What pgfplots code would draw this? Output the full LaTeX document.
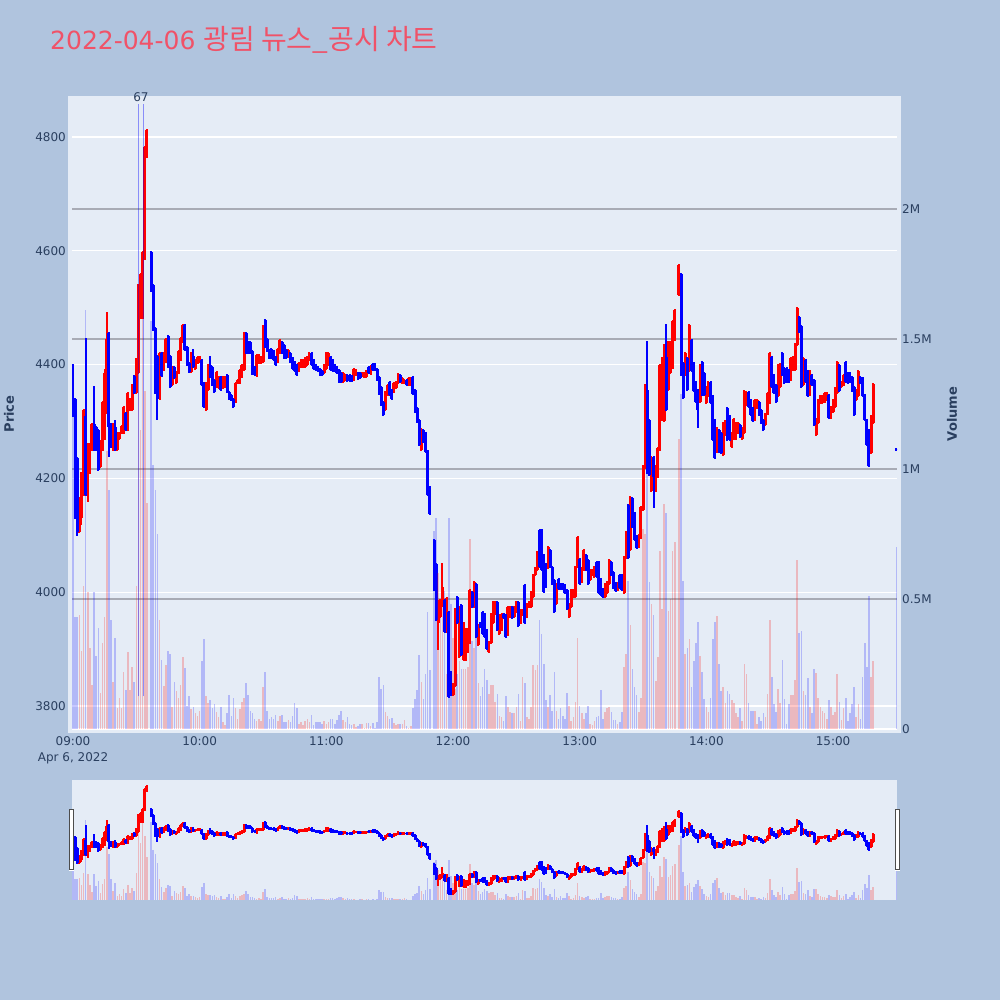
\documentclass[border=0pt]{standalone}
\usepackage{fontspec}
\setmainfont{DejaVu Sans}
\newfontfamily\kr{Noto Sans CJK KR}
\usepackage{pgfplots}
\usepackage{pgfplotstable}
\pgfplotsset{compat=1.18}

\definecolor{paper}{RGB}{176,196,222}
\definecolor{plotbg}{RGB}{229,236,246}
\definecolor{txt}{RGB}{42,63,95}
\definecolor{titlec}{RGB}{240,82,104}
\definecolor{gridgray}{RGB}{168,171,181}

% minute after 09:00, open high low close, volume in millions
\pgfplotstableread{
t o h l c v
0 4400 4400 4310 4310 1.30
1 4340 4340 4130 4130 0.43
2 4235 4235 4100 4105 0.43
3 4105 4165 4105 4165 0.44
4 4130 4210 4120 4210 0.30
5 4200 4320 4170 4320 0.55
6 4310 4445 4170 4170 1.61
7 4170 4260 4160 4260 0.525
8 4235 4260 4210 4260 0.31
9 4250 4295 4250 4295 0.17
10 4295 4360 4250 4250 0.525
11 4290 4290 4250 4250 0.28
12 4285 4285 4215 4215 0.39
13 4220 4265 4220 4265 0.14
14 4250 4335 4250 4335 0.33
15 4270 4390 4270 4385 0.43
16 4315 4490 4315 4445 1.07
17 4455 4455 4240 4290 0.92
18 4295 4295 4255 4255 0.42
19 4250 4295 4250 4295 0.18
20 4290 4300 4250 4250 0.35
21 4250 4280 4250 4280 0.08
22 4270 4280 4270 4280 0.12
23 4280 4292 4280 4292 0.08
24 4280 4325 4280 4325 0.22
25 4315 4315 4285 4285 0.15
26 4285 4350 4285 4350 0.295
27 4320 4340 4320 4340 0.15
28 4320 4365 4320 4365 0.24
29 4380 4380 4350 4350 0.18
30 4350 4410 4350 4410 0.55
31 4385 4540 4385 4540 1.70
32 4481 4560 4481 4560 1.15
33 4481 4598 4481 4598 1.81
34 4585 4783 4585 4783 1.30
35 4765 4812 4765 4812 0.87
37 4598 4598 4530 4530 1.57
38 4540 4540 4460 4460 1.015
39 4465 4465 4350 4350 0.92
40 4415 4415 4305 4340 0.75
41 4340 4420 4340 4420 0.42
42 4420 4420 4380 4380 0.265
43 4390 4420 4390 4420 0.165
44 4405 4445 4405 4445 0.245
45 4450 4450 4395 4395 0.30
46 4415 4415 4360 4360 0.29
47 4365 4395 4365 4395 0.085
48 4396 4396 4376 4376 0.18
49 4367 4387 4367 4387 0.145
50 4385 4423 4385 4423 0.12
51 4408 4446 4408 4446 0.17
52 4440 4469 4440 4469 0.275
53 4469 4469 4425 4425 0.235
54 4431 4431 4399 4399 0.09
55 4402 4402 4387 4387 0.125
56 4387 4420 4387 4420 0.075
57 4415 4425 4396 4396 0.085
58 4393 4408 4393 4408 0.06
59 4402 4414 4402 4414 0.05
60 4405 4414 4405 4414 0.07
61 4408 4408 4364 4364 0.26
62 4367 4367 4326 4326 0.345
63 4320 4367 4320 4367 0.125
64 4355 4399 4355 4399 0.10
65 4400 4414 4379 4379 0.11
66 4396 4396 4364 4364 0.08
67 4373 4373 4352 4352 0.095
68 4361 4387 4361 4387 0.065
69 4358 4379 4358 4379 0.045
70 4379 4379 4355 4355 0.085
71 4358 4379 4358 4379 0.025
72 4361 4379 4361 4379 0.015
73 4382 4382 4352 4352 0.06
74 4352 4352 4340 4340 0.13
75 4346 4346 4338 4338 0.05
76 4340 4340 4326 4326 0.12
77 4335 4367 4335 4367 0.08
78 4367 4373 4367 4373 0.04
79 4367 4390 4367 4390 0.075
80 4379 4399 4379 4399 0.105
81 4390 4455 4390 4455 0.12
82 4455 4455 4420 4420 0.175
83 4440 4440 4420 4420 0.13
84 4440 4440 4420 4420 0.07
85 4423 4423 4384 4384 0.06
86 4396 4396 4382 4382 0.04
87 4380 4417 4380 4417 0.03
88 4402 4417 4402 4417 0.04
89 4402 4414 4402 4414 0.03
90 4405 4467 4405 4467 0.16
91 4478 4478 4431 4431 0.22
92 4445 4445 4423 4423 0.07
93 4425 4425 4411 4411 0.04
94 4427 4427 4411 4411 0.045
95 4423 4423 4408 4408 0.04
96 4414 4414 4399 4399 0.055
97 4405 4427 4405 4427 0.03
98 4420 4443 4420 4443 0.05
99 4440 4440 4420 4420 0.055
100 4434 4434 4411 4411 0.025
101 4425 4425 4411 4411 0.025
102 4414 4425 4414 4425 0.033
103 4420 4420 4405 4405 0.025
104 4411 4411 4393 4393 0.05
105 4405 4405 4388 4388 0.10
106 4399 4399 4381 4381 0.08
107 4388 4402 4388 4402 0.018
108 4396 4408 4396 4408 0.028
109 4396 4408 4396 4408 0.015
110 4396 4411 4396 4411 0.03
111 4399 4414 4399 4414 0.04
112 4408 4420 4408 4420 0.025
113 4420 4420 4399 4399 0.055
114 4408 4408 4392 4392 0.015
115 4399 4399 4390 4390 0.025
116 4395 4395 4389 4389 0.028
117 4393 4393 4381 4381 0.025
118 4388 4388 4381 4381 0.018
119 4385 4399 4385 4399 0.03
120 4393 4420 4393 4420 0.018
121 4399 4420 4399 4420 0.025
122 4414 4414 4390 4390 0.04
123 4408 4408 4388 4388 0.04
124 4399 4399 4388 4388 0.018
125 4396 4396 4385 4385 0.033
126 4390 4390 4370 4370 0.055
127 4385 4385 4369 4369 0.07
128 4369 4385 4369 4385 0.033
129 4373 4382 4373 4382 0.025
130 4381 4381 4371 4371 0.045
131 4381 4381 4371 4371 0.02
132 4380 4380 4371 4371 0.015
133 4373 4392 4373 4392 0.02
134 4382 4390 4382 4390 0.008
135 4386 4386 4375 4375 0.01
136 4385 4385 4376 4376 0.018
137 4380 4386 4380 4386 0.02
138 4379 4386 4379 4386 0.005
139 4379 4388 4379 4388 0.023
140 4396 4396 4385 4385 0.023
141 4384 4397 4384 4397 0.01
142 4401 4401 4390 4390 0.023
143 4401 4401 4390 4390 0.003
144 4393 4393 4373 4373 0.025
145 4379 4379 4349 4349 0.20
146 4361 4361 4329 4329 0.155
147 4335 4335 4311 4311 0.17
148 4320 4352 4320 4352 0.065
149 4346 4364 4346 4364 0.05
150 4370 4370 4346 4346 0.037
151 4355 4355 4340 4340 0.044
152 4352 4367 4352 4367 0.023
153 4358 4370 4358 4370 0.014
154 4367 4384 4367 4384 0.02
155 4381 4381 4370 4370 0.02
156 4367 4376 4367 4376 0.02
157 4367 4373 4367 4373 0.033
158 4373 4373 4364 4364 0.013
159 4364 4376 4364 4376 0.005
160 4364 4376 4364 4376 0.01
161 4379 4379 4349 4349 0.08
162 4355 4355 4317 4317 0.115
163 4323 4323 4299 4299 0.15
164 4303 4303 4258 4258 0.285
165 4250 4286 4250 4286 0.18
166 4285 4285 4264 4264 0.115
167 4279 4279 4247 4247 0.21
168 4248 4248 4170 4170 0.45
169 4185 4185 4138 4138 0.225
171 4091 4091 4003 4003 0.76
172 4050 4050 3951 3951 0.81
173 3945 3985 3900 3985 0.60
174 3957 3986 3957 3986 0.48
175 3975 4050 3975 4010 0.49
176 3986 3986 3930 3930 0.53
177 3930 3989 3930 3989 0.21
178 3965 3965 3816 3816 0.81
179 3860 3860 3819 3819 0.48
180 3819 3839 3819 3839 0.35
181 3836 3971 3836 3971 0.155
182 3992 3992 3945 3945 0.21
183 3886 3974 3886 3974 0.26
184 3977 3977 3889 3889 0.23
185 3880 3945 3880 3945 0.23
186 3880 3936 3880 3936 0.23
187 3895 3936 3895 3936 0.24
188 3910 4003 3910 4003 0.73
189 4001 4001 3974 3974 0.34
190 3974 4018 3974 4018 0.31
191 4014 4014 3921 3921 0.35
192 3907 3942 3907 3942 0.175
193 3945 3945 3939 3939 0.125
194 3965 3965 3927 3927 0.16
195 3962 3962 3921 3921 0.23
196 3933 3933 3901 3901 0.19
197 3895 3913 3895 3913 0.135
198 3910 3962 3910 3962 0.17
199 3945 3983 3945 3983 0.17
200 3962 3983 3962 3983 0.105
201 3983 3983 3933 3933 0.135
202 3927 3960 3927 3960 0.05
203 3933 3962 3933 3962 0.045
204 3962 3962 3954 3954 0.03
205 3960 3960 3921 3921 0.125
206 3924 3974 3924 3974 0.085
207 3957 3974 3957 3974 0.065
208 3974 3974 3954 3954 0.06
209 3957 3974 3957 3974 0.06
210 3965 3983 3965 3983 0.085
211 3983 3983 3940 3940 0.135
212 3945 3968 3945 3968 0.03
213 3960 3968 3960 3968 0.20
214 4013 4013 3945 3945 0.175
215 3957 3980 3957 3980 0.045
216 3974 3983 3974 3983 0.04
217 3974 4001 3974 4001 0.085
218 3992 4030 3992 4030 0.245
219 4030 4042 4030 4042 0.225
220 4039 4071 4039 4071 0.245
221 4109 4109 4045 4045 0.42
222 4109 4109 4039 4039 0.365
223 4065 4065 4001 4001 0.25
224 4050 4050 4009 4009 0.11
225 4042 4080 4042 4080 0.085
226 4074 4074 4045 4045 0.13
227 4045 4045 4015 4015 0.07
228 4021 4021 3965 3965 0.22
229 3980 4015 3980 4015 0.07
230 4024 4024 4006 4006 0.04
231 4015 4015 4006 4006 0.08
232 4015 4015 4006 4006 0.05
233 4012 4012 3998 3998 0.04
234 4003 4003 3971 3971 0.14
235 3957 3980 3957 3980 0.09
236 3974 4003 3974 4003 0.03
237 3992 4003 3992 4003 0.045
238 3992 4045 3992 4045 0.105
239 4045 4097 4045 4097 0.35
240 4059 4059 4015 4015 0.09
241 4018 4042 4018 4042 0.06
242 4039 4074 4039 4074 0.04
243 4065 4065 4039 4039 0.06
244 4056 4056 4015 4015 0.09
245 4021 4039 4021 4039 0.02
246 4030 4039 4030 4039 0.015
247 4027 4045 4027 4045 0.03
248 4053 4053 4027 4027 0.045
249 4053 4053 3998 3998 0.05
250 4024 4024 3995 3995 0.15
251 4006 4006 3992 3992 0.04
252 3992 4015 3992 4015 0.065
253 3998 4018 3998 4018 0.08
254 4015 4056 4015 4056 0.085
255 4053 4053 4030 4030 0.064
256 4036 4036 4007 4007 0.035
257 4016 4016 4002 4002 0.035
258 4004 4016 4004 4016 0.02
259 4030 4030 4007 4007 0.025
260 4030 4030 4004 4004 0.065
261 3999 4062 3999 4062 0.24
262 4060 4106 4060 4106 0.29
263 4153 4153 4060 4060 0.57
264 4074 4168 4074 4168 0.40
265 4165 4165 4115 4115 0.23
266 4139 4139 4092 4092 0.16
267 4098 4098 4077 4077 0.13
268 4080 4100 4080 4100 0.065
269 4095 4150 4095 4150 0.12
270 4144 4221 4144 4221 0.77
271 4218 4364 4218 4364 0.75
272 4355 4440 4209 4209 1.00
273 4303 4303 4206 4206 0.565
274 4177 4238 4177 4238 0.48
275 4238 4238 4150 4203 0.44
276 4177 4221 4177 4221 0.185
277 4203 4253 4203 4253 0.275
278 4250 4399 4250 4399 0.685
279 4303 4411 4303 4411 0.46
280 4300 4435 4300 4435 0.865
281 4414 4470 4320 4320 0.83
282 4355 4440 4355 4440 0.455
283 4385 4440 4385 4440 0.50
284 4394 4476 4394 4476 0.685
285 4443 4496 4443 4496 0.72
287 4522 4575 4522 4575 1.115
288 4560 4560 4382 4382 1.29
289 4402 4402 4341 4341 0.57
290 4382 4420 4382 4420 0.29
291 4411 4411 4355 4355 0.31
292 4388 4470 4388 4470 0.345
293 4443 4443 4388 4388 0.16
294 4402 4402 4353 4353 0.26
295 4370 4370 4335 4335 0.33
296 4355 4355 4291 4320 0.41
297 4335 4399 4335 4399 0.28
298 4405 4405 4347 4347 0.22
299 4385 4385 4347 4347 0.115
300 4332 4361 4332 4361 0.085
301 4344 4370 4344 4370 0.065
302 4370 4370 4332 4332 0.12
303 4344 4344 4268 4268 0.345
304 4303 4303 4235 4235 0.41
305 4247 4288 4247 4288 0.435
306 4285 4285 4247 4247 0.25
307 4279 4279 4244 4244 0.145
308 4241 4297 4241 4297 0.16
309 4276 4300 4276 4300 0.10
310 4323 4323 4268 4268 0.145
311 4309 4309 4268 4268 0.135
312 4256 4279 4256 4279 0.11
313 4270 4304 4270 4304 0.10
314 4270 4297 4270 4297 0.06
315 4279 4297 4279 4297 0.045
316 4294 4294 4273 4273 0.08
317 4270 4288 4270 4288 0.03
318 4279 4354 4279 4354 0.25
319 4329 4352 4329 4352 0.21
320 4352 4352 4326 4326 0.10
321 4338 4338 4312 4312 0.07
322 4323 4323 4300 4300 0.07
323 4303 4338 4303 4338 0.07
324 4323 4338 4323 4338 0.02
325 4335 4335 4312 4312 0.045
326 4320 4320 4297 4297 0.03
327 4303 4303 4285 4285 0.06
328 4294 4314 4294 4314 0.045
329 4314 4350 4314 4350 0.135
330 4332 4420 4332 4420 0.42
331 4414 4414 4361 4361 0.20
332 4382 4382 4350 4350 0.095
333 4364 4364 4335 4335 0.065
334 4344 4399 4344 4399 0.155
335 4361 4401 4361 4401 0.10
336 4420 4420 4382 4382 0.265
337 4394 4394 4367 4367 0.115
338 4394 4394 4370 4370 0.02
339 4391 4391 4370 4370 0.095
340 4373 4411 4373 4411 0.13
341 4391 4414 4391 4414 0.13
342 4391 4436 4391 4436 0.19
343 4435 4499 4435 4499 0.65
344 4484 4484 4458 4458 0.37
345 4467 4467 4361 4361 0.375
346 4364 4411 4364 4411 0.145
347 4408 4408 4370 4370 0.13
348 4388 4388 4345 4345 0.195
349 4347 4388 4347 4388 0.085
350 4382 4382 4364 4364 0.06
351 4373 4373 4294 4294 0.23
352 4276 4304 4276 4304 0.215
353 4297 4338 4297 4338 0.12
354 4332 4344 4332 4344 0.085
355 4332 4344 4332 4344 0.07
356 4335 4350 4335 4350 0.06
357 4338 4350 4338 4350 0.04
358 4347 4347 4306 4306 0.11
359 4306 4326 4306 4326 0.085
360 4317 4338 4317 4338 0.055
361 4326 4358 4326 4358 0.065
362 4350 4404 4350 4404 0.21
363 4399 4399 4353 4353 0.105
364 4361 4370 4361 4370 0.035
365 4364 4382 4364 4382 0.08
366 4405 4405 4370 4370 0.12
367 4385 4385 4367 4367 0.03
368 4385 4385 4370 4370 0.06
369 4379 4379 4353 4353 0.095
370 4361 4361 4312 4312 0.16
371 4338 4355 4338 4355 0.045
372 4344 4389 4344 4389 0.095
373 4379 4379 4367 4367 0.04
374 4376 4376 4344 4344 0.20
375 4347 4347 4303 4303 0.33
376 4303 4303 4259 4259 0.24
377 4285 4285 4221 4221 0.51
378 4244 4309 4244 4309 0.20
379 4297 4366 4297 4366 0.26
390 4252 4252 4250 4250 0.70
}\cdata

\newcommand{\candles}{
  % wicks and bodies: red up, blue down
  \addplot[draw=none,mark=none,x filter/.expression={\thisrow{c}>=\thisrow{o} ? x : nan},
    error bars/.cd,y dir=plus,y explicit,error mark=none,error bar style={red,line width=2pt,line cap=rect}]
    table[x=t,y=l,y error plus expr=\thisrow{h}-\thisrow{l}] {\cdata};
  \addplot[draw=none,mark=none,x filter/.expression={\thisrow{c}>=\thisrow{o} ? x : nan},
    error bars/.cd,y dir=plus,y explicit,error mark=none,error bar style={red,line width=3pt}]
    table[x=t,y=o,y error plus expr=\thisrow{c}-\thisrow{o}] {\cdata};
  \addplot[draw=none,mark=none,x filter/.expression={\thisrow{c}<\thisrow{o} ? x : nan},
    error bars/.cd,y dir=plus,y explicit,error mark=none,error bar style={blue,line width=2pt,line cap=rect}]
    table[x=t,y=l,y error plus expr=\thisrow{h}-\thisrow{l}] {\cdata};
  \addplot[draw=none,mark=none,x filter/.expression={\thisrow{c}<\thisrow{o} ? x : nan},
    error bars/.cd,y dir=plus,y explicit,error mark=none,error bar style={blue,line width=3pt}]
    table[x=t,y=c,y error plus expr=\thisrow{o}-\thisrow{c}] {\cdata};
}
\newcommand{\volumes}{
  \addplot[ycomb,red,opacity=0.22,line width=1.6pt,mark=none,x filter/.expression={\thisrow{c}>=\thisrow{o} ? x : nan}]
    table[x=t,y=v] {\cdata};
  \addplot[ycomb,blue,opacity=0.22,line width=1.6pt,mark=none,x filter/.expression={\thisrow{c}<\thisrow{o} ? x : nan}]
    table[x=t,y=v] {\cdata};
}

\pgfplotsset{
  base/.style={scale only axis,anchor=south west,width=825pt,
    xmin=-0.47,xmax=390.3,axis line style={draw=none},tick style={draw=none},
    tick label style={font=\fontsize{12}{14}\selectfont,text=txt}},
  main/.style={base,at={(72pt,271pt)},height=629pt},
  slider/.style={base,at={(72pt,100pt)},height=120pt,xtick=\empty,ytick=\empty},
  pr/.style={ymin=3759.6,ymax=4865},
  vo/.style={ymin=0,ymax=2.419},
}

\begin{document}
\begin{tikzpicture}[x=1pt,y=1pt]
\fill[paper] (0,0) rectangle (1000,1000);
\fill[plotbg] (68,267) rectangle (901,904);
\fill[plotbg] (72,100) rectangle (897,220);

% grid and tick labels
\begin{axis}[main,pr,xtick={0,60,120,180,240,300,360},
    xticklabels={09:00,10:00,11:00,12:00,13:00,14:00,15:00},
    ytick={3800,4000,4200,4400,4600,4800},yticklabels={3800,4000,4200,4400,4600,4800},
    ymajorgrids,major grid style={white,line width=1.1pt},
    yticklabel style={inner sep=0pt,xshift=-6pt},
    xticklabel style={inner sep=0pt,yshift=-7pt}]
\end{axis}
\begin{axis}[main,vo,xtick=\empty,
    ytick={0.5,1,1.5,2},yticklabels={0.5M,1M,1.5M,2M},yticklabel pos=right,
    ymajorgrids,major grid style={gridgray,line width=1.5pt},
    yticklabel style={inner sep=0pt,xshift=5pt}]
\end{axis}
\draw[white,line width=2pt] (72,271) -- (897,271);
\node[anchor=west,inner sep=0pt,text=txt,font=\fontsize{12}{14}\selectfont] at (902,271) {0};

% main price and volume
\begin{axis}[main,pr,xtick=\empty,ytick=\empty]
\candles
\end{axis}
\begin{axis}[main,vo,xtick=\empty,ytick=\empty]
\volumes
\addplot[blue,opacity=0.4,line width=1pt] coordinates {(30.9,0.125) (30.9,2.404)};
\addplot[blue,opacity=0.4,line width=1pt] coordinates {(33.3,0.125) (33.3,2.404)};
\end{axis}

% range slider
\begin{axis}[slider,pr]
\candles
\end{axis}
\begin{axis}[slider,vo]
\volumes
\end{axis}
\draw[white,fill=white] (69.5,130) rectangle (73.5,190);
\draw[black!70,line width=1pt] (69.5,130) rectangle (73.5,190);
\draw[white,fill=white] (895,130) rectangle (899,190);
\draw[black!70,line width=1pt] (895,130) rectangle (899,190);

% text
\node[anchor=west,inner sep=0pt,text=titlec,font=\fontsize{25}{30}\selectfont] at (50,960) {2022-04-06 {\kr\fontsize{28}{30}\selectfont 광림 뉴스\_공시 차트}};
\node[text=txt,inner sep=0pt,font=\fontsize{12}{14}\selectfont] at (141,903) {67};
\node[anchor=center,inner sep=0pt,text=txt,font=\fontsize{12}{14}\selectfont] at (73,242) {Apr 6, 2022};
\node[rotate=90,inner sep=0pt,text=txt,font=\bfseries\fontsize{13}{15}\selectfont] at (9,586) {Price};
\node[rotate=90,inner sep=0pt,text=txt,font=\bfseries\fontsize{13}{15}\selectfont] at (952,586) {Volume};
\end{tikzpicture}
\end{document}
